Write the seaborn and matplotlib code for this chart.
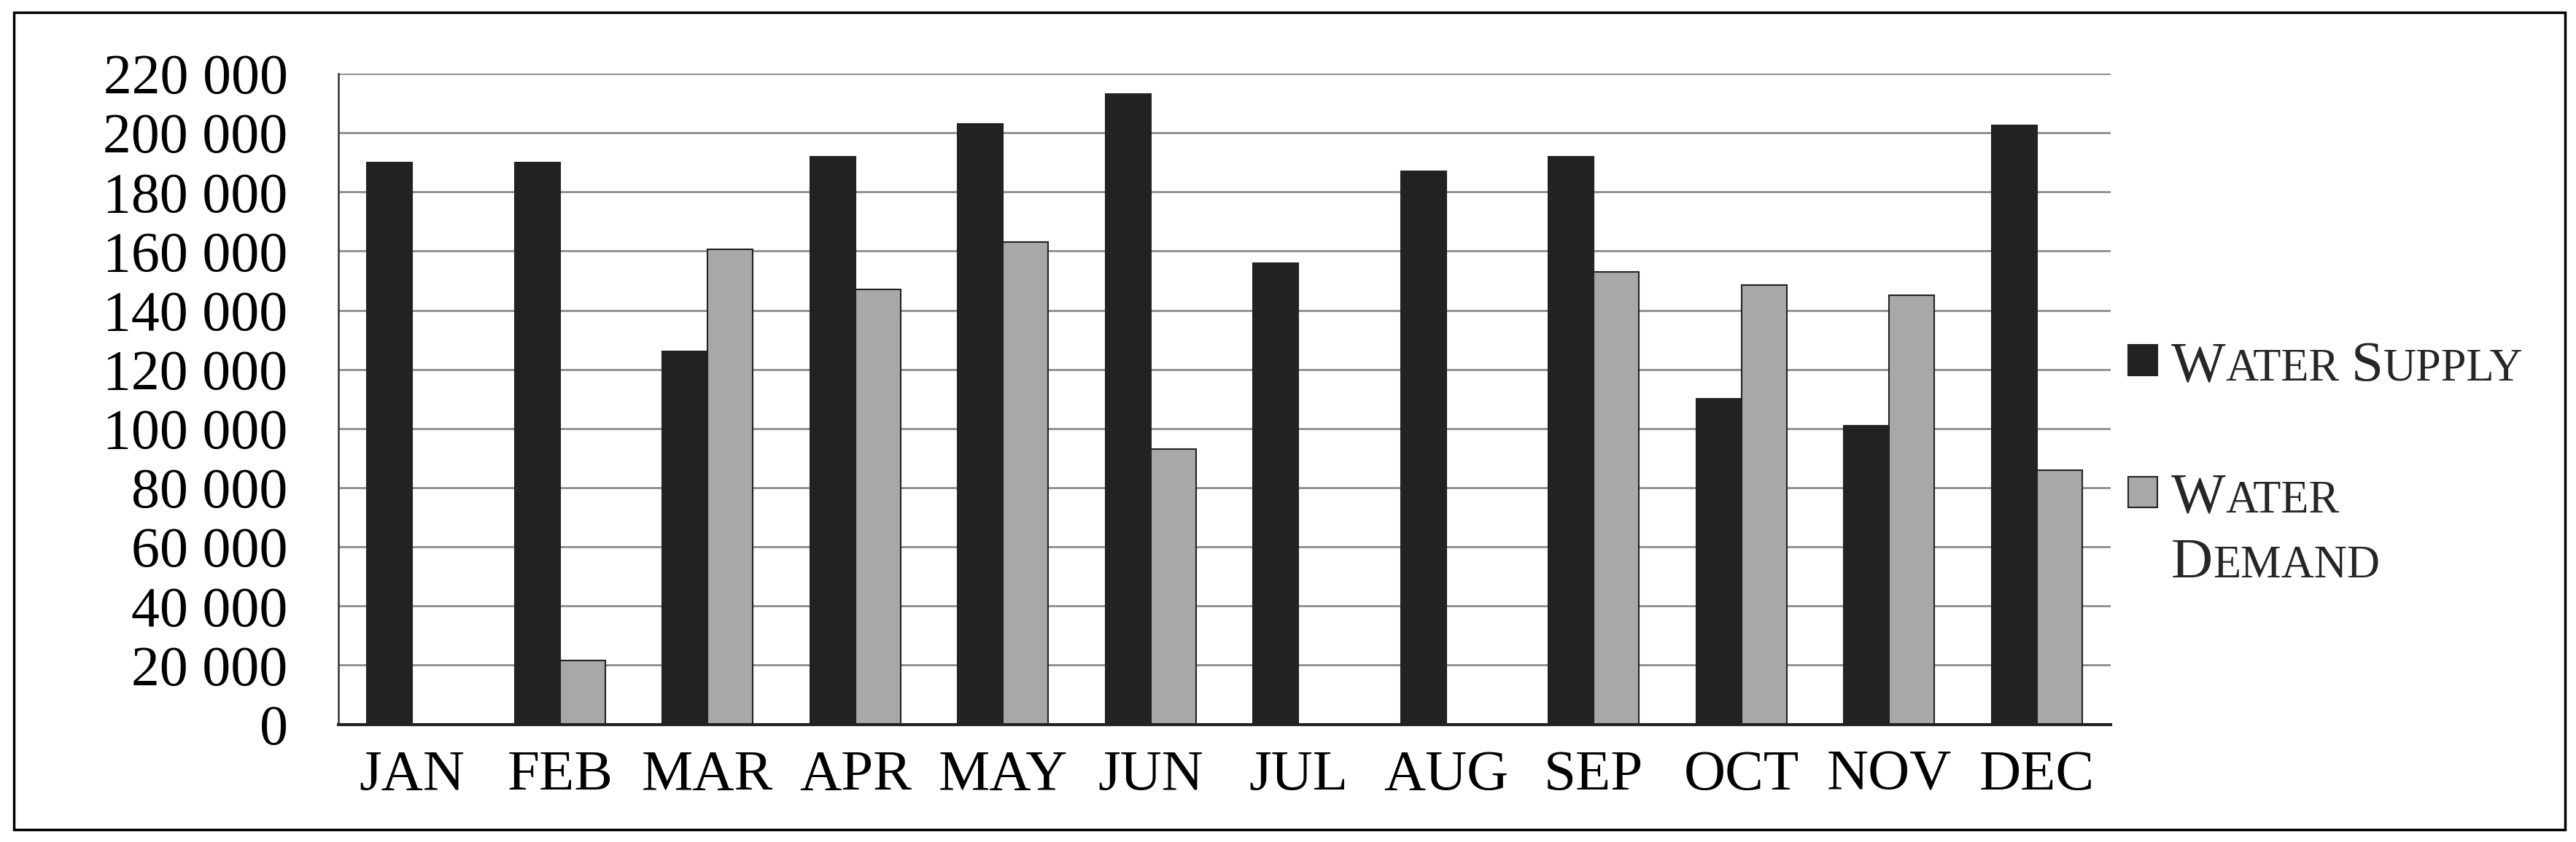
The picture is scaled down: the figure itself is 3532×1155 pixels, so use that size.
import numpy as np
import matplotlib
matplotlib.use("Agg")
import matplotlib.pyplot as plt
import matplotlib.patches as mpatches
from matplotlib.ticker import FuncFormatter
import pandas as pd
import seaborn as sns

months = ["JAN", "FEB", "MAR", "APR", "MAY", "JUN",
          "JUL", "AUG", "SEP", "OCT", "NOV", "DEC"]
water_supply = [190000, 190000, 126000, 192000, 203000, 213000,
                156000, 187000, 192000, 110000, 101000, 202500]
water_demand = [0, 21500, 160500, 147000, 163000, 93000,
                0, 0, 153000, 148500, 145000, 86000]
series_names = ["Water Supply", "Water Demand"]
series_colors = ["#222222", "#a8a8a8"]
y_ticks = [0, 20000, 40000, 60000, 80000, 100000, 120000,
           140000, 160000, 180000, 200000, 220000]

W, H, DPI = 3532, 1155, 100


def small_caps(fig, renderer, x, y, text, big, small):
    """
    Write text in small caps, piece by piece, starting at pixel (x, y) on the baseline.

    :return: x position in pixels where the text ends
    """
    space = 0.25 * small * DPI / 72
    for i, word in enumerate(text.split(" ")):
        if i:
            x += space
        runs = []
        for ch in word:
            size = big if ch.isupper() else small
            if runs and runs[-1][1] == size:
                runs[-1][0] += ch.upper()
            else:
                runs.append([ch.upper(), size])
        for piece, size in runs:
            t = fig.text(x / W, y / H, piece, fontsize=size, ha="left", va="baseline")
            x = t.get_window_extent(renderer).x1
    return x


sns.set_style("white")
plt.rcParams["font.family"] = ["Liberation Serif", "DejaVu Serif"]

df = pd.DataFrame({
    "month": months * 2,
    "value": water_supply + water_demand,
    "series": [series_names[0]] * len(months) + [series_names[1]] * len(months),
})

fig = plt.figure(figsize=(W / DPI, H / DPI), dpi=DPI)
ax = fig.add_axes([464 / W, 1 - 993.5 / H, (2894 - 464) / W, (993.5 - 101) / H])

sns.barplot(data=df, x="month", y="value", hue="series", hue_order=series_names,
            palette=series_colors, saturation=1, width=0.61,
            edgecolor="#222222", linewidth=1.5, legend=False, ax=ax)

ax.set_xlim(-0.5, len(months) - 0.5)
ax.set_ylim(0, 220000)
ax.set_yticks(y_ticks)
ax.yaxis.set_major_formatter(FuncFormatter(lambda v, p: f"{int(v):,}".replace(",", " ")))
ax.yaxis.grid(True, color="#8c8c8c", linewidth=2)
ax.set_axisbelow(True)
ax.set_xlabel("")
ax.set_ylabel("")

for side in ["top", "right"]:
    ax.spines[side].set_visible(False)
ax.spines["left"].set_color("#333333")
ax.spines["left"].set_linewidth(1.8)
ax.spines["bottom"].set_color("#222222")
ax.spines["bottom"].set_linewidth(3)

ax.tick_params(axis="y", direction="in", length=17, width=2, color="#2a2a2a",
               pad=50, labelsize=56, labelcolor="black")
ax.set_xticks(np.arange(-0.5, len(months), 1), minor=True)
ax.tick_params(axis="x", which="major", length=0, pad=25, labelsize=57, labelcolor="black")
ax.tick_params(axis="x", which="minor", direction="out", length=17, width=2.2, color="#2a2a2a")

# legend drawn by hand so the labels can be in small caps
renderer = fig.canvas.get_renderer()
legend_rows = [(633, [series_names[0]]), (452, ["Water", "Demand"])]
square_bottoms = [640, 459]
for (base, lines), bottom, color in zip(legend_rows, square_bottoms, series_colors):
    fig.patches.append(mpatches.Rectangle((2918 / W, bottom / H), 40 / W, 42 / H,
                                          facecolor=color, edgecolor="#222222", linewidth=1.5,
                                          transform=fig.transFigure, figure=fig))
    for k, line in enumerate(lines):
        small_caps(fig, renderer, 2977, base - k * 89, line, 57, 45)

# frame round the whole chart
fig.patches.append(mpatches.Rectangle((19 / W, 17 / H), (3517 - 19) / W, (1138 - 17) / H,
                                      fill=False, edgecolor="black", linewidth=2.5,
                                      transform=fig.transFigure, figure=fig))

fig.savefig("out.png", dpi=DPI, facecolor="white")
